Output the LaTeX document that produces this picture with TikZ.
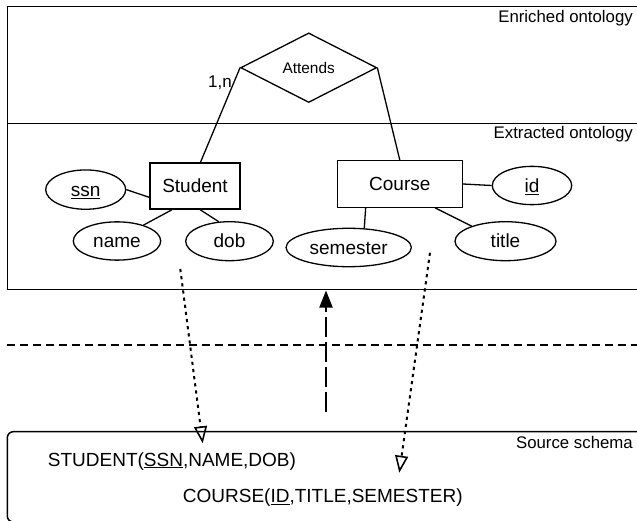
\documentclass[tikz,border=0pt]{standalone}
\usepackage{fontspec}
\setmainfont{Liberation Sans}
\usetikzlibrary{shapes.geometric,arrows.meta}
\begin{document}
\begin{tikzpicture}[x=1pt,y=-1pt,
  erfont/.style={font=\fontsize{19}{22}\selectfont, text height=13.6pt, text depth=0pt},
  entity/.style={draw, line width=1.3pt, rectangle, inner sep=0pt, erfont},
  attr/.style={draw, line width=1.3pt, ellipse, inner sep=0pt, erfont},
  conn/.style={line width=1.3pt},
  frame/.style={line width=1.5pt},
  lbl/.style={font=\fontsize{16.8}{19}\selectfont, inner sep=0pt, anchor=east},
  schema/.style={font=\fontsize{19}{22}\selectfont, inner sep=0pt, anchor=base west},
  mapping/.style={line width=2pt, dash pattern=on 3.2pt off 4pt,
    -{Triangle[open, length=17pt, width=13pt, line width=1.6pt]}},
  upflow/.style={line width=2pt, dash pattern=on 20pt off 5pt,
    -{Triangle[length=17pt, width=13pt]}},
  sep/.style={line width=1.4pt, dash pattern=on 8pt off 5pt}]
\useasboundingbox (0,0) rectangle (637,521);
\clip (0,0) rectangle (637,521);

% frames
\draw[frame] (7.3,6.7) rectangle (660,289.3);
\draw[frame] (7.3,123.5) -- (660,123.5);
\draw[frame, rounded corners=6pt] (7.3,431.7) rectangle (660,522);
\draw[sep] (7.3,345) -- (660,345);

% labels
\node[lbl] (lenr) at (633,18.3) {Enriched ontology};
\node[lbl] (lext) at (633,134) {Extracted ontology};
\node[lbl] (lsrc) at (633,442) {Source schema};

% relationship
\node[diamond, draw, line width=1.3pt, minimum width=136pt, minimum height=69.6pt,
  inner sep=0pt, font=\fontsize{15.4}{18}\selectfont] (att) at (308.7,67.7) {Attends};
\node[font=\fontsize{17}{20}\selectfont, inner sep=0pt, anchor=base east] (card) at (232,87.3) {1,n};

% entities
\node[entity, minimum width=90pt, minimum height=46pt] (student) at (195,186) {Student};
\node[entity, minimum width=125pt, minimum height=46.5pt] (course) at (399.8,184) {Course};

% attributes
\node[attr, minimum width=80pt, minimum height=39.3pt] (ssn) at (85.7,189.6) {\underline{ssn}};
\node[attr, minimum width=87.4pt, minimum height=38.3pt] (name) at (117,241) {name};
\node[attr, minimum width=87.6pt, minimum height=39pt] (dob) at (229.5,241.2) {dob};
\node[attr, minimum width=125.3pt, minimum height=38.4pt] (semester) at (348.7,247.5) {semester};
\node[attr, minimum width=101pt, minimum height=39pt] (title) at (505.5,241.2) {title};
\node[attr, minimum width=79.4pt, minimum height=38.3pt] (id) at (532,185.5) {\underline{id}};

% connectors
\draw[conn] (student.77.7) -- (att.west);
\draw[conn] (course.north) -- (att.east);
\draw[conn] (ssn.east) -- (student.194);
\draw[conn] (name.31) -- (student.226);
\draw[conn] (dob.119) -- (student.282);
\draw[conn] (course.east) -- (id.west);
\draw[conn] (course.215.6) -- (semester.51);
\draw[conn] (course.326) -- (title.156);

% source schema
\node[schema] (stud) at (47.7,466) {STUDENT(\underline{SSN},NAME,DOB)};
\node[schema] (crs) at (182.7,502.8) {COURSE(\underline{ID},TITLE,SEMESTER)};

% mappings
\coordinate (m1s) at (180.3,269);
\coordinate (m1e) at (202.7,443.3);
\coordinate (m2s) at (430,252.7);
\coordinate (m2e) at (399.3,472.7);
\coordinate (ups) at (326,411.7);
\coordinate (upe) at (326,290.5);
\draw[mapping] (m1s) -- (m1e);
\draw[mapping] (m2s) -- (m2e);
\draw[upflow] (ups) -- (upe);
\end{tikzpicture}
\end{document}
